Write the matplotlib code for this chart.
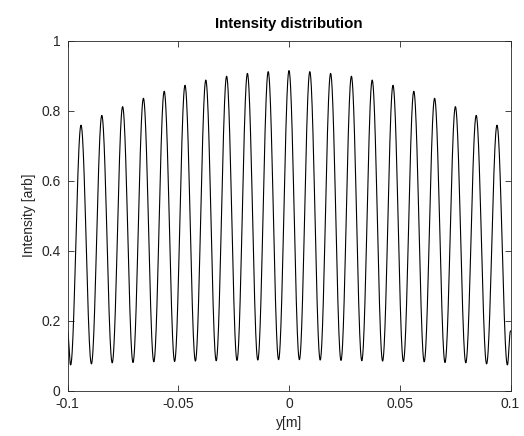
import numpy as np
import matplotlib
matplotlib.use("Agg")
import matplotlib.pyplot as plt

plt.rcParams["font.family"] = ["Liberation Sans", "DejaVu Sans"]

# fringe maxima (centre first, then outward)
fringe_step = 0.00939
peak_heights = [0.914, 0.911, 0.906, 0.898, 0.887, 0.872, 0.855, 0.835, 0.811, 0.786, 0.758]
# minima between the maxima, centre outward
valley_heights = [0.088, 0.087, 0.086, 0.085, 0.084, 0.083, 0.082, 0.080, 0.079, 0.076, 0.073]
edge_value = 0.17
x_ticks = [-0.1, -0.05, 0, 0.05, 0.1]
x_ticklabels = ["-0.1", "-0.05", "0", "0.05", "0.1"]
y_ticks = [0, 0.2, 0.4, 0.6, 0.8, 1]
y_ticklabels = ["0", "0.2", "0.4", "0.6", "0.8", "1"]

# extrema (position, value) for the right half, centre outward
half = []
for k, (p, v) in enumerate(zip(peak_heights, valley_heights)):
    half.append((k * fringe_step, p))
    half.append(((k + 0.5) * fringe_step, v))
half.append((0.1, edge_value))
# mirror to the left half
pairs = [(-x, y) for x, y in reversed(half[1:])] + half

xs, ys = [], []
for (x0, y0), (x1, y1) in zip(pairs[:-1], pairs[1:]):
    t = np.linspace(0, 1, 40, endpoint=False)
    xs.append(x0 + (x1 - x0) * t)
    ys.append(y0 + (y1 - y0) * (1 - np.cos(np.pi * t)) / 2)
xs.append([pairs[-1][0]])
ys.append([pairs[-1][1]])
xs = np.concatenate(xs)
ys = np.concatenate(ys)

fig = plt.figure(figsize=(5.24, 4.36), dpi=100)
ax = fig.add_axes([67.5 / 524, 1 - 390.5 / 436, 443 / 524, 350 / 436])
ax.plot(xs, ys, color="black", linewidth=0.8)

ax.set_xlim(-0.1, 0.1)
ax.set_ylim(0, 1)
ax.set_xticks(x_ticks)
ax.set_xticklabels(x_ticklabels)
ax.set_yticks(y_ticks)
ax.set_yticklabels(y_ticklabels)
ax.tick_params(direction="in", top=True, right=True, length=4, width=0.6,
               colors="#262626", labelsize=10, pad=5)
for s in ax.spines.values():
    s.set_color("#262626")
    s.set_linewidth(0.6)

ax.set_title("Intensity distribution", fontsize=10.8, fontweight="bold", pad=9)
ax.set_xlabel("y[m]", fontsize=10, color="#262626", labelpad=3)
ax.set_ylabel("Intensity [arb]", fontsize=10, color="#262626", labelpad=4)

fig.savefig("out.png", dpi=100)
